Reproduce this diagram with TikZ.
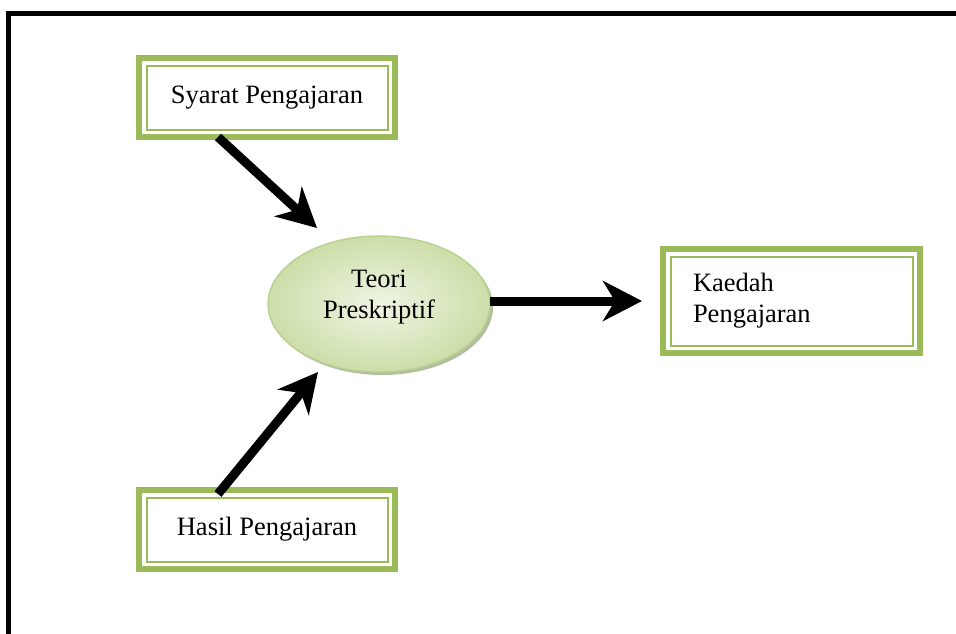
\documentclass[tikz,border=0pt]{standalone}
\usepackage{fontspec}
\setmainfont{Liberation Serif}
\usetikzlibrary{arrows.meta,shapes.geometric,shadows}
\definecolor{ogreen}{HTML}{9BBB59}
\definecolor{elin}{HTML}{EFF5E4}
\definecolor{elout}{HTML}{CCDEA9}
\definecolor{elbord}{HTML}{BCD292}
\definecolor{elshadow}{HTML}{A9B893}
\begin{document}
\begin{tikzpicture}[x=1pt,y=-1pt,
  txt/.style={font=\fontsize{26.5}{31}\selectfont},
  box/.style={txt, draw=ogreen, line width=6pt, outer sep=0pt, inner sep=0pt, fill=white},
  innerframe/.style={draw=ogreen, line width=2pt},
  arr/.style={line width=9pt, -{Stealth[length=39pt,width=40pt,inset=12pt]}},
  frame/.style={line width=5pt, line join=miter}
]
\useasboundingbox (0,0) rectangle (956,633);
% frame
\draw[frame] (8.5,640) -- (8.5,13.5) -- (960,13.5);
% boxes
\node[box, minimum width=256pt, minimum height=79pt] (s) at (267,97.5) {Syarat Pengajaran};
\node[box, minimum width=256pt, minimum height=79pt] (h) at (267,529.5) {Hasil Pengajaran};
\node[box, minimum width=257pt, minimum height=104pt, text width=197pt, align=left] (k) at (791.5,301) {Kaedah\\Pengajaran};
\foreach \n in {s,h,k}{
  \draw[innerframe] ([shift={(7.5,7.5)}]\n.north west) rectangle ([shift={(-7.5,-7.5)}]\n.south east);
}
% ellipse
\node[ellipse, minimum width=222pt, minimum height=136pt, inner sep=0pt, outer sep=0pt,
      draw=elbord, line width=1.5pt, inner color=elin, outer color=elout,
      drop shadow={shadow xshift=3pt, shadow yshift=-3pt, fill=elshadow, opacity=0.9}] (e) at (379,304) {};
\node[txt, align=center] (et) at (379,297) {Teori\\Preskriptif};
% arrow ends
\coordinate (t1) at (317,228);
\coordinate (t2) at (318,372);
\coordinate (t3) at (642,301);
\draw[arr] ([xshift=-49pt]s.south) -- (t1);
\draw[arr] ([xshift=-49pt,yshift=-4pt]h.north) -- (t2);
\draw[arr] ([yshift=3pt]e.east) -- (t3);
\end{tikzpicture}
\end{document}
